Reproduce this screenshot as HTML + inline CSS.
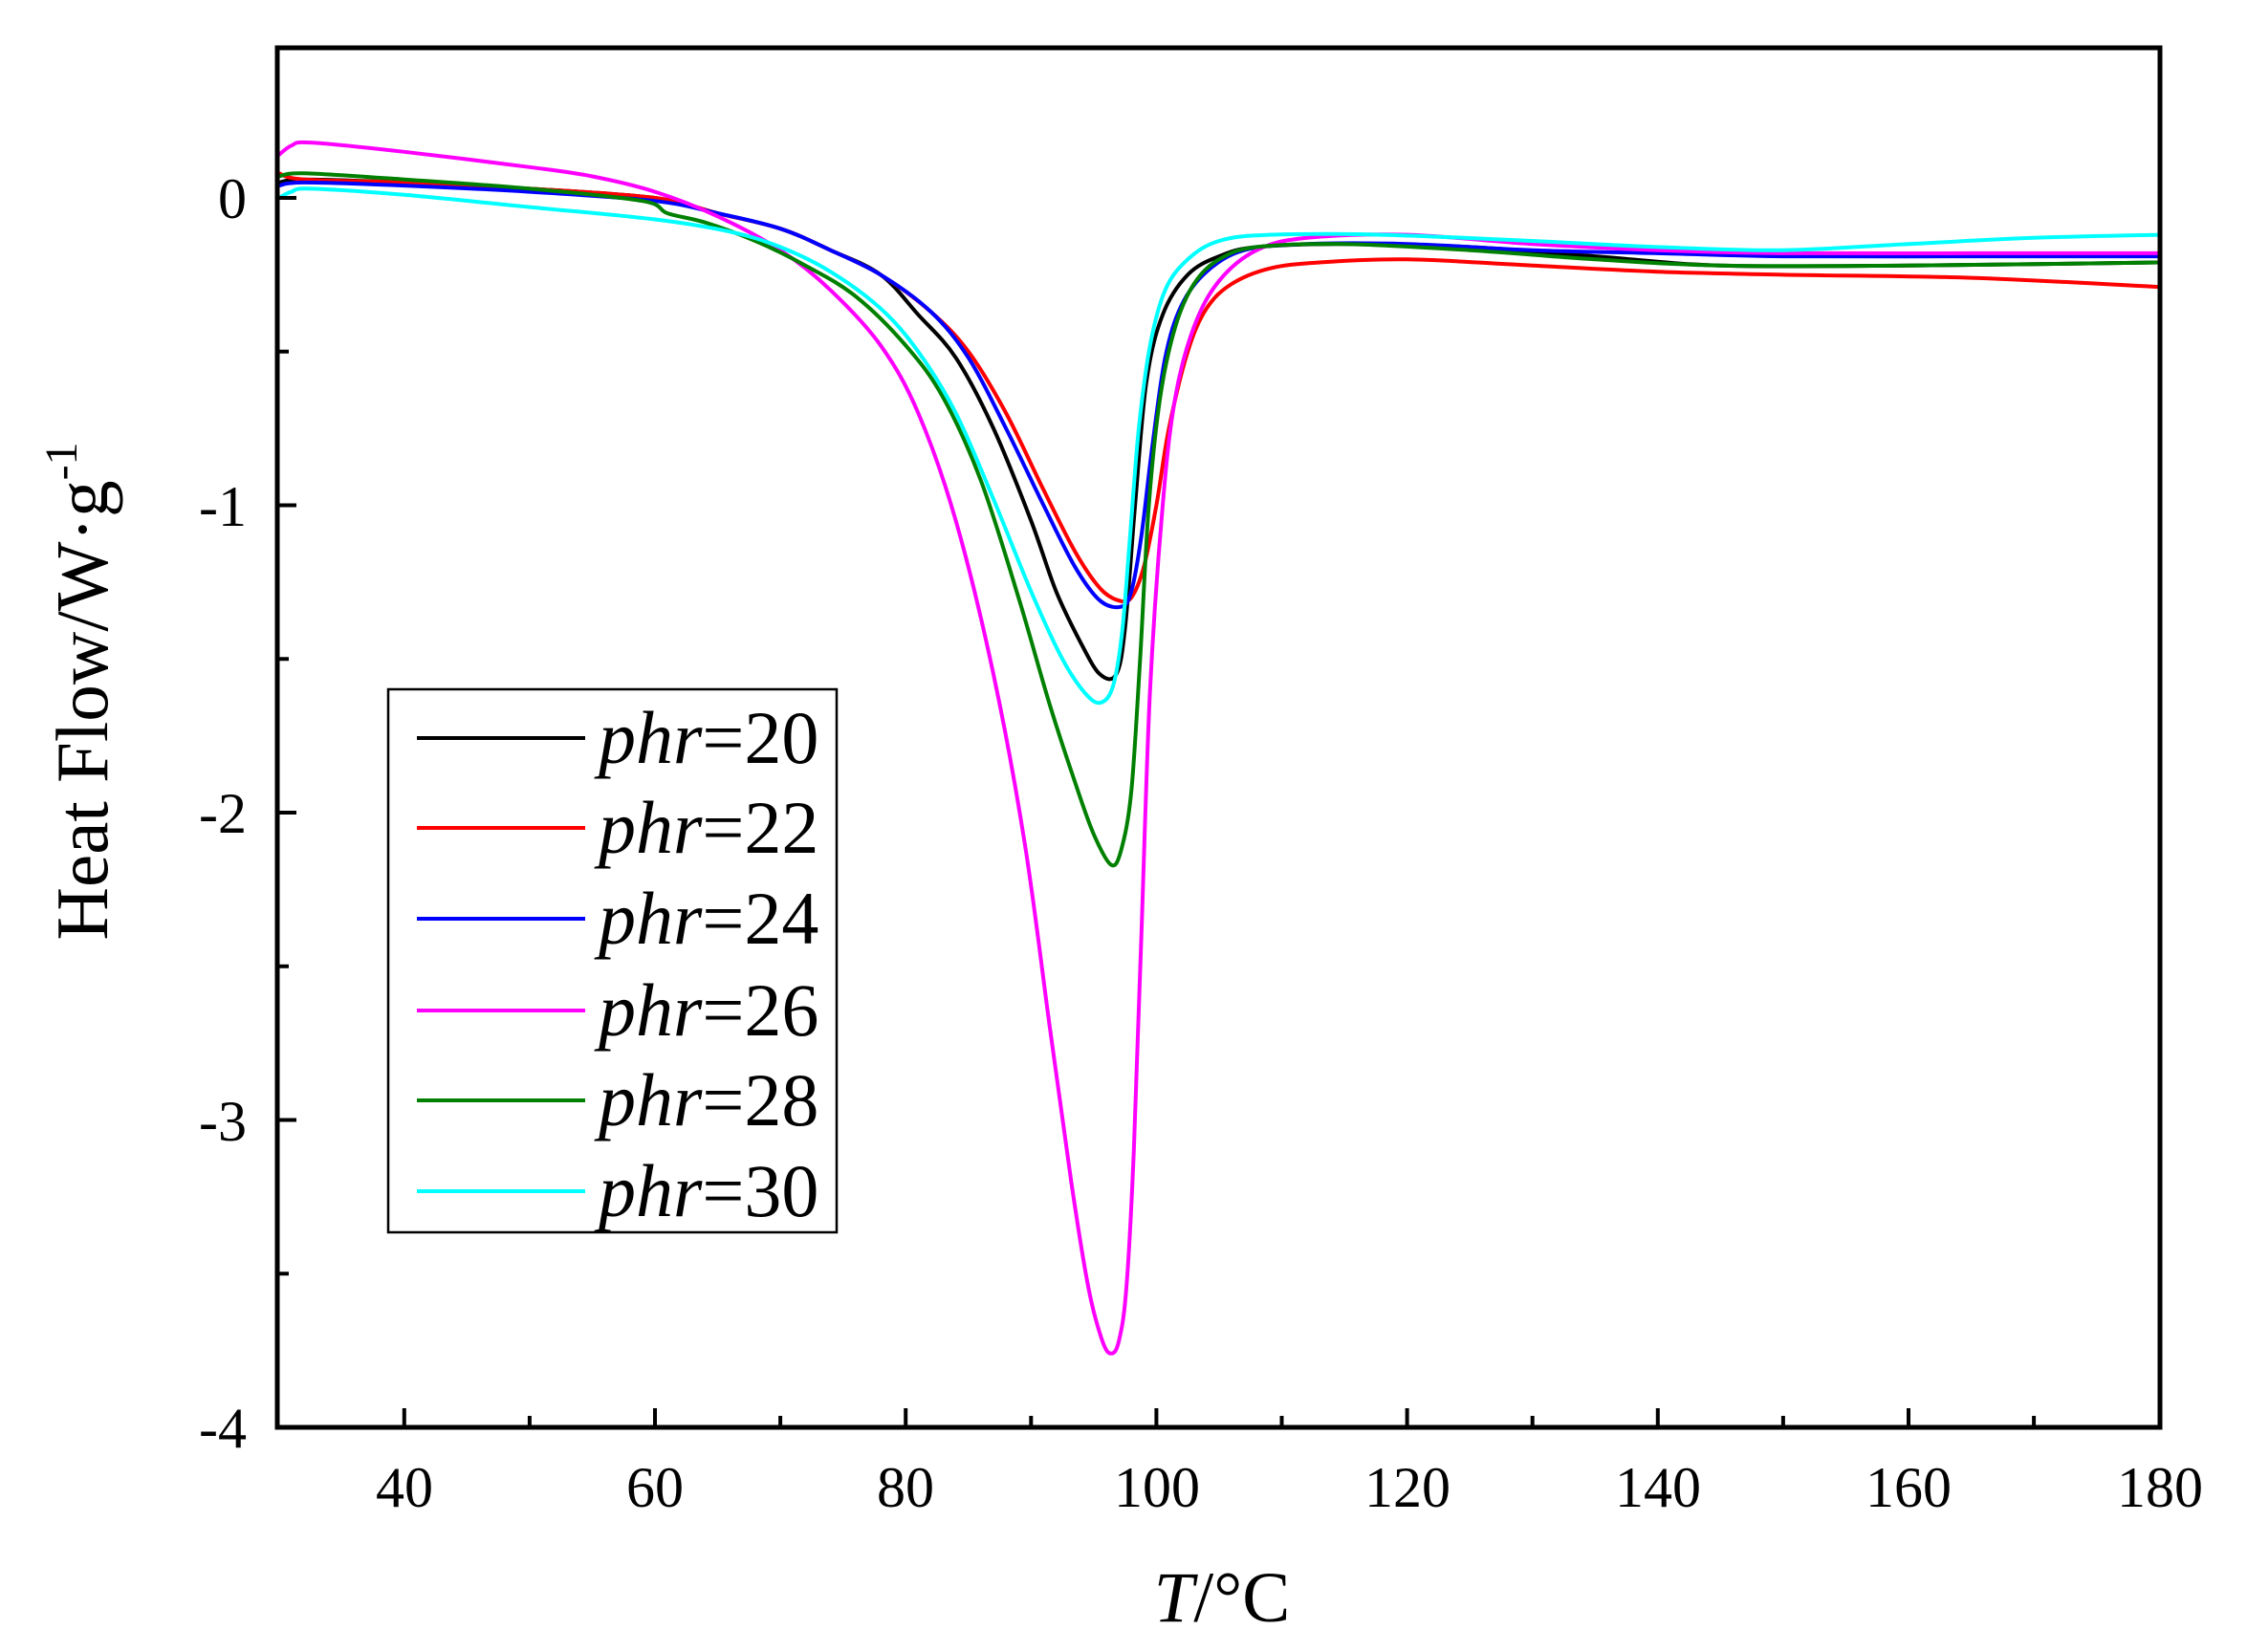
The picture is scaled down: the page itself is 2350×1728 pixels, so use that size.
<!DOCTYPE html>
<html><head><meta charset="utf-8"><style>
html,body{margin:0;padding:0;background:#fff;}
svg{display:block;}
text{font-family:"Liberation Serif",serif;fill:#000;}
</style></head><body>
<svg id="s" width="2350" height="1728" viewBox="0 0 2350 1728" xmlns="http://www.w3.org/2000/svg">
<g id="curves" fill="none" stroke-width="4" stroke-linejoin="round"></g>
<rect x="290" y="50" width="1969" height="1443" fill="none" stroke="#000" stroke-width="5"/>
<g id="ticks" stroke="#000" stroke-width="4"></g>
<g font-size="60" text-anchor="middle">
<text x="423" y="1576">40</text><text x="685" y="1576">60</text><text x="947" y="1576">80</text>
<text x="1210" y="1576">100</text><text x="1472" y="1576">120</text><text x="1734" y="1576">140</text>
<text x="1996" y="1576">160</text><text x="2259" y="1576">180</text>
</g>
<g font-size="60" text-anchor="end">
<text x="258" y="228">0</text><text x="258" y="550">-1</text><text x="258" y="871">-2</text>
<text x="258" y="1193">-3</text><text x="258" y="1514">-4</text>
</g>
<text x="1278" y="1696" font-size="75" text-anchor="middle"><tspan font-style="italic">T</tspan>/°C</text>
<text transform="translate(112,723) rotate(-90)" font-size="77" text-anchor="middle">Heat Flow/W·g<tspan font-size="48" dy="-32">-1</tspan></text>
<rect x="406" y="721" width="469" height="568" fill="#fff" stroke="#000" stroke-width="2.5"/>
<g id="leg" font-size="78"></g>
</svg>
<script>
var X=function(t){return 291.7+(t-30)*13.11;}, Y=function(v){return 207-v*321.5;};
var S=[
["#000000",[[30,0.05],[32,0.06],[40,0.05],[50,0.03],[60,0],[65,-0.05],[70,-0.1],[74,-0.17],[78,-0.25],[81,-0.38],[84,-0.52],[87,-0.75],[90,-1.05],[92,-1.28],[94,-1.45],[95.5,-1.55],[96.8,-1.55],[97.5,-1.4],[98.3,-1.0],[99.2,-0.6],[100.5,-0.38],[102.5,-0.25],[105,-0.19],[108,-0.16],[115,-0.15],[125,-0.16],[135,-0.19],[145,-0.22],[160,-0.22],[180,-0.21]]],
["#ff0000",[[30,0.08],[32,0.06],[40,0.05],[50,0.03],[60,0],[65,-0.05],[70,-0.1],[74,-0.17],[78,-0.25],[82,-0.37],[85,-0.5],[88,-0.7],[91,-0.95],[93.5,-1.15],[95.5,-1.27],[97,-1.31],[98,-1.3],[99,-1.2],[100,-1.0],[101,-0.75],[102.5,-0.5],[104,-0.36],[106,-0.28],[109,-0.23],[113,-0.21],[120,-0.2],[130,-0.22],[140,-0.24],[150,-0.25],[165,-0.26],[180,-0.29]]],
["#0000ff",[[30,0.04],[32,0.05],[40,0.04],[50,0.02],[60,-0.01],[65,-0.05],[70,-0.1],[74,-0.17],[78,-0.25],[82,-0.37],[85,-0.52],[88,-0.75],[91,-1.0],[93.5,-1.2],[95.5,-1.31],[97.2,-1.33],[98,-1.28],[98.8,-1.1],[99.7,-0.8],[100.7,-0.52],[102,-0.35],[104,-0.24],[107,-0.17],[112,-0.15],[120,-0.15],[130,-0.17],[140,-0.18],[150,-0.19],[165,-0.19],[180,-0.19]]],
["#ff00ff",[[30,0.14],[31,0.17],[32.5,0.18],[40,0.15],[50,0.1],[55,0.07],[60,0.02],[65,-0.06],[70,-0.17],[74,-0.3],[78,-0.48],[81,-0.7],[84,-1.05],[87,-1.55],[89.5,-2.1],[91.5,-2.7],[93.2,-3.2],[94.6,-3.55],[95.7,-3.72],[96.4,-3.76],[97,-3.72],[97.6,-3.55],[98.2,-3.1],[98.8,-2.4],[99.5,-1.6],[100.5,-1.0],[101.5,-0.65],[103,-0.42],[105,-0.27],[108,-0.17],[112,-0.13],[120,-0.12],[130,-0.15],[140,-0.17],[150,-0.18],[165,-0.18],[180,-0.18]]],
["#008000",[[30,0.07],[32,0.08],[40,0.06],[50,0.03],[59,-0.01],[61,-0.05],[64,-0.08],[68,-0.14],[72,-0.22],[76,-0.32],[80,-0.48],[83,-0.65],[86,-0.92],[89,-1.3],[91.5,-1.65],[93.5,-1.9],[95,-2.07],[96.4,-2.17],[97.2,-2.12],[98,-1.93],[98.7,-1.5],[99.4,-1.0],[100.3,-0.65],[101.5,-0.42],[103,-0.28],[105,-0.2],[108,-0.16],[115,-0.15],[125,-0.17],[135,-0.2],[145,-0.22],[160,-0.22],[180,-0.21]]],
["#00ffff",[[30,0.0],[31,0.02],[32.5,0.03],[40,0.01],[50,-0.03],[60,-0.07],[66,-0.11],[70,-0.16],[74,-0.24],[78,-0.36],[81,-0.5],[84,-0.7],[87,-0.98],[90,-1.28],[92.5,-1.5],[94.5,-1.62],[95.7,-1.64],[96.6,-1.58],[97.3,-1.4],[97.9,-1.1],[98.6,-0.75],[99.5,-0.48],[100.7,-0.3],[102.5,-0.2],[105,-0.14],[109,-0.12],[118,-0.12],[130,-0.14],[140,-0.16],[150,-0.17],[160,-0.15],[170,-0.13],[180,-0.12]]]
];
function path(pts){var p=pts.map(function(d){return [X(d[0]),Y(d[1])];});var s="M"+p[0][0].toFixed(1)+","+p[0][1].toFixed(1);
for(var i=0;i<p.length-1;i++){var p0=p[i-1]||p[i],p1=p[i],p2=p[i+1],p3=p[i+2]||p2;var t=1/6;
s+=" C"+(p1[0]+(p2[0]-p0[0])*t).toFixed(1)+","+(p1[1]+(p2[1]-p0[1])*t).toFixed(1)+" "+(p2[0]-(p3[0]-p1[0])*t).toFixed(1)+","+(p2[1]-(p3[1]-p1[1])*t).toFixed(1)+" "+p2[0].toFixed(1)+","+p2[1].toFixed(1);}
return s;}
var NS="http://www.w3.org/2000/svg",g=document.getElementById("curves");
S.forEach(function(c){var e=document.createElementNS(NS,"path");e.setAttribute("d",path(c[1]));e.setAttribute("stroke",c[0]);g.appendChild(e);});
var tk=document.getElementById("ticks"),h="";
for(var t=40;t<=170;t+=10){var x=X(t),L=(t%20==0)?20:12;h+='<line x1="'+x+'" y1="1493" x2="'+x+'" y2="'+(1493-L)+'"/>';}
for(var v=0;v>=-3.5;v-=0.5){var y=Y(v),L=(v%1==0)?20:12;h+='<line x1="290" y1="'+y+'" x2="'+(290+L)+'" y2="'+y+'"/>';}
tk.innerHTML=h;
var lg=document.getElementById("leg"),ys=[772,866,961,1057,1151,1246],lab=["20","22","24","26","28","30"],hh="";
S.forEach(function(c,i){hh+='<line x1="436" y1="'+ys[i]+'" x2="612" y2="'+ys[i]+'" stroke="'+c[0]+'" stroke-width="4"/>';
hh+='<text x="626" y="'+(ys[i]+26)+'"><tspan font-style="italic">phr</tspan>='+lab[i]+'</text>';});
lg.innerHTML=hh;
</script>
</body></html>
